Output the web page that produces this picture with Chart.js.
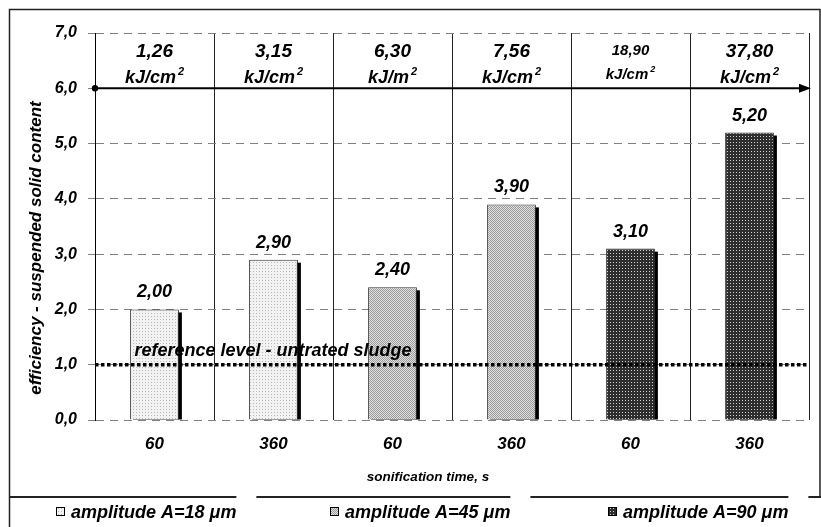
<!DOCTYPE html>
<html><head><meta charset="utf-8">
<script src="https://cdn.jsdelivr.net/npm/chart.js@4/dist/chart.umd.min.js"></script>
<style>html,body{margin:0;padding:0;background:#fff;overflow:hidden}#wrap{width:821px;height:527px;position:relative}</style>
</head><body><div id="wrap"><canvas id="c" width="821" height="527"></canvas></div>
<script>
// ---- data ----
const categories = ['60', '360', '60', '360', '60', '360'];
const seriesNames = ['amplitude A=18 \u03BCm', 'amplitude A=45 \u03BCm', 'amplitude A=90 \u03BCm'];
const amp18 = [2.00, 2.90, null, null, null, null];
const amp45 = [null, null, 2.40, 3.90, null, null];
const amp90 = [null, null, null, null, 3.10, 5.20];
const energyValues = ['1,26', '3,15', '6,30', '7,56', '18,90', '37,80'];
const energyUnits = ['kJ/cm', 'kJ/cm', 'kJ/m', 'kJ/cm', 'kJ/cm', 'kJ/cm'];
const referenceLevel = 1.0;
const referenceLabel = 'reference level - untrated sludge';
const energyAxisLevel = 6.0;
const yMin = 0, yMax = 7, yStep = 1;
const yTitle = 'efficiency - suspended solid content';
const xTitle = 'sonification time, s';

// ---- styles ----
const FONT = '"Liberation Sans", Arial, sans-serif';
function bi(size) { return 'italic bold ' + size + 'px ' + FONT; }

function makePattern(w, h, bg, fg, dots) {
  const c = document.createElement('canvas');
  c.width = w; c.height = h;
  const g = c.getContext('2d');
  g.fillStyle = bg; g.fillRect(0, 0, w, h);
  g.fillStyle = fg;
  dots.forEach(d => g.fillRect(d[0], d[1], d[2] || 1, d[3] || 1));
  return document.getElementById('c').getContext('2d').createPattern(c, 'repeat');
}
const patLight = makePattern(3, 3, '#f2f2f2', '#b8b8b8', [[1, 1]]);
const patMed = makePattern(2, 2, '#e0e0e0', '#9a9a9a', [[0, 0], [1, 1]]);
const patDark = makePattern(3, 3, '#2e2e2e', '#d0d0d0', [[1, 1]]);
const patterns = [patLight, patMed, patDark];

function fmt(v, d) { return v.toFixed(d).replace('.', ','); }

const decor = {
  id: 'decor',
  beforeDraw(chart) {
    const ctx = chart.ctx;
    ctx.save();
    ctx.fillStyle = '#fff';
    ctx.fillRect(0, 0, chart.width, chart.height);
    ctx.restore();
  },
  beforeDatasetDraw(chart, args) {
    // hard drop shadow behind each bar (from the bar elements themselves)
    const ctx = chart.ctx;
    const ca = chart.chartArea;
    ctx.save();
    ctx.fillStyle = '#000';
    args.meta.data.forEach((el, i) => {
      const v = chart.data.datasets[args.index].data[i];
      if (v === null || v === undefined) return;
      const p = el.getProps(['x', 'y', 'base', 'width'], true);
      const left = p.x - p.width / 2 + 3;
      const top = p.y + 3;
      const bottom = Math.min(p.base, ca.bottom);
      ctx.fillRect(left, top, p.width, bottom - top);
    });
    ctx.restore();
  },
  afterDatasetsDraw(chart) {
    const ctx = chart.ctx;
    const ca = chart.chartArea;
    const xs = chart.scales.x, ys = chart.scales.y;
    ctx.save();
    // reference level dotted line
    const yr = ys.getPixelForValue(referenceLevel);
    ctx.strokeStyle = '#000';
    ctx.lineWidth = 3.5;
    ctx.setLineDash([3.5, 2.5]);
    ctx.beginPath();
    ctx.moveTo(ca.left, yr);
    ctx.lineTo(ca.right, yr);
    ctx.stroke();
    ctx.setLineDash([]);
    ctx.fillStyle = '#000';
    ctx.font = bi(18);
    ctx.textAlign = 'left';
    ctx.textBaseline = 'alphabetic';
    ctx.fillText(referenceLabel, xs.getPixelForValue(0) - 20, yr - 9);

    // energy axis arrow
    const ya = ys.getPixelForValue(energyAxisLevel);
    ctx.lineWidth = 2;
    ctx.beginPath();
    ctx.moveTo(ca.left, ya);
    ctx.lineTo(ca.right - 6, ya);
    ctx.stroke();
    ctx.beginPath();
    ctx.arc(ca.left, ya, 3.2, 0, Math.PI * 2);
    ctx.fill();
    ctx.beginPath();
    ctx.moveTo(ca.right + 2, ya);
    ctx.lineTo(ca.right - 10, ya - 4.5);
    ctx.lineTo(ca.right - 10, ya + 4.5);
    ctx.closePath();
    ctx.fill();

    // energy labels
    const yTop = ys.getPixelForValue(yMax);
    energyValues.forEach((t, i) => {
      const small = (i === 4);
      const x = xs.getPixelForValue(i);
      ctx.textAlign = 'center';
      ctx.textBaseline = 'alphabetic';
      ctx.font = bi(small ? 15 : 19);
      ctx.fillText(t, x, yTop + (small ? 22 : 24));
      const u = energyUnits[i];
      const fu = small ? 15 : 18;
      ctx.font = bi(fu);
      const wu = ctx.measureText(u).width;
      ctx.font = bi(small ? 9 : 11);
      const ws = ctx.measureText('2').width;
      const x0 = x - (wu + ws + 2) / 2;
      ctx.textAlign = 'left';
      ctx.font = bi(fu);
      ctx.fillText(u, x0, yTop + (small ? 46 : 50));
      ctx.font = bi(small ? 9 : 11);
      ctx.fillText('2', x0 + wu + 2, yTop + (small ? 39 : 42));
    });

    // value labels
    ctx.font = bi(18);
    ctx.textAlign = 'center';
    ctx.textBaseline = 'alphabetic';
    chart.data.datasets.forEach((ds, di) => {
      const meta = chart.getDatasetMeta(di);
      meta.data.forEach((el, i) => {
        const v = ds.data[i];
        if (v === null || v === undefined) return;
        ctx.fillText(fmt(v, 2), el.x, el.y - 12);
      });
    });
    ctx.restore();
  },
  afterDraw(chart) {
    const ctx = chart.ctx;
    const W = chart.width, H = chart.height;
    const ca = chart.chartArea;
    ctx.save();
    // outer frame
    ctx.strokeStyle = '#222';
    ctx.lineWidth = 1.5;
    ctx.beginPath();
    ctx.moveTo(9.5, H);
    ctx.lineTo(9.5, 9.5);
    ctx.lineTo(W - 1, 9.5);
    ctx.lineTo(W - 1, 497);
    ctx.stroke();
    ctx.lineWidth = 2;
    ctx.beginPath();
    ctx.moveTo(9, 497);
    ctx.lineTo(W, 497);
    ctx.stroke();

    // x title (slightly left of the plot centre, as in the original)
    ctx.fillStyle = '#000';
    ctx.font = bi(13.5);
    ctx.textAlign = 'center';
    ctx.textBaseline = 'middle';
    ctx.fillText(xTitle, (ca.left + ca.right) / 2 - 24, 477);

    // y title
    ctx.font = bi(17);
    ctx.translate(36, 248);
    ctx.rotate(-Math.PI / 2);
    ctx.fillText(yTitle, 0, 0);
    ctx.setTransform(1, 0, 0, 1, 0, 0);

    // legend
    const boxX = [56, 330, 608];
    ctx.font = bi(18);
    ctx.textAlign = 'left';
    ctx.textBaseline = 'middle';
    seriesNames.forEach((name, i) => {
      const bx = boxX[i];
      ctx.fillStyle = patterns[i];
      ctx.fillRect(bx, 507, 8, 8);
      ctx.strokeStyle = '#000';
      ctx.lineWidth = 1;
      ctx.strokeRect(bx + 0.5, 507.5, 8, 8);
      ctx.fillStyle = '#000';
      const tx = bx + 15;
      ctx.fillText(name, tx, 513);
      const tw = ctx.measureText(name).width;
      ctx.fillStyle = '#fff';
      ctx.fillRect(tx + tw, 495, 20, 4);
    });
    ctx.restore();
  }
};

const ds = (label, data, pat) => ({
  label, data,
  backgroundColor: pat,
  borderColor: '#333',
  borderWidth: 1,
  borderSkipped: 'bottom',
  categoryPercentage: 1,
  barPercentage: 0.41,
  clip: { left: 5, top: 5, right: 5, bottom: 0 }
});

new Chart(document.getElementById('c'), {
  type: 'bar',
  data: {
    labels: categories,
    datasets: [
      ds(seriesNames[0], amp18, patLight),
      ds(seriesNames[1], amp45, patMed),
      ds(seriesNames[2], amp90, patDark)
    ]
  },
  options: {
    responsive: false,
    devicePixelRatio: 1,
    animation: false,
    layout: { padding: { left: 0, top: 33, right: 12, bottom: 30 } },
    plugins: { legend: { display: false }, tooltip: { enabled: false }, title: { display: false } },
    scales: {
      x: {
        stacked: true,
        afterFit(s) { s.height = 77; },
        grid: { offset: true, color: '#222', lineWidth: 1, drawTicks: false },
        border: { display: false },
        ticks: { color: '#000', font: { family: FONT, size: 17, style: 'italic', weight: 'bold' }, padding: 14, maxRotation: 0 },
        title: { display: false, text: xTitle }
      },
      y: {
        min: yMin, max: yMax,
        afterFit(s) { s.width = 95; },
        grid: { color: '#808080', lineWidth: 1, tickLength: 7, tickColor: '#808080', tickBorderDash: [] },
        border: { display: true, color: '#000', width: 1, dash: [8, 6] },
        ticks: {
          stepSize: yStep, color: '#000', padding: 11,
          font: { family: FONT, size: 16, style: 'italic', weight: 'bold' },
          callback: v => fmt(v, 1)
        }
      }
    }
  },
  plugins: [decor]
});
</script></body></html>
